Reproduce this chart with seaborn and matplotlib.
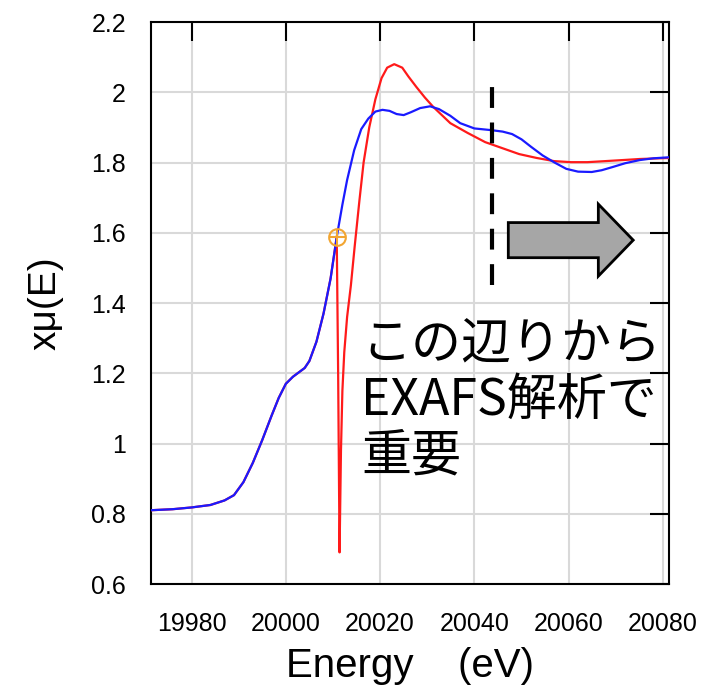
import numpy as np
import pandas as pd
import matplotlib
matplotlib.use("Agg")
import matplotlib.pyplot as plt
import seaborn as sns
from matplotlib.patches import FancyArrow

energy_meas = [19971.3, 19976, 19980, 19984, 19987, 19989, 19991, 19993, 19995, 19997,
               19998.5, 20000, 20001.5, 20003, 20004, 20005, 20006.5, 20008, 20009.5, 20010.8,
               20012, 20013, 20014.5, 20016, 20017.5, 20019, 20020.5, 20022, 20023.5, 20025,
               20026.5, 20028.5, 20030.6, 20032.5, 20034.9, 20037, 20040, 20043.7, 20046, 20048,
               20050, 20052, 20054.5, 20057, 20059.5, 20062, 20064.9, 20067, 20069.3, 20072,
               20075.1, 20078, 20081.5]
mu_meas = [0.810, 0.813, 0.818, 0.825, 0.838, 0.853, 0.890, 0.945, 1.010, 1.080,
           1.130, 1.170, 1.190, 1.205, 1.215, 1.235, 1.290, 1.370, 1.470, 1.588,
           1.680, 1.750, 1.835, 1.895, 1.925, 1.945, 1.950, 1.947, 1.938, 1.935,
           1.943, 1.955, 1.960, 1.952, 1.933, 1.912, 1.897, 1.892, 1.888, 1.881,
           1.866, 1.845, 1.820, 1.800, 1.782, 1.774, 1.773, 1.778, 1.787, 1.798,
           1.807, 1.812, 1.815]

# fitted / background curve (red)
energy_fit = [19971.3, 19976, 19980, 19984, 19987, 19989, 19991, 19993, 19995, 19997,
              19998.5, 20000, 20001.5, 20003, 20004, 20005, 20006.5, 20008, 20009.5, 20010.8,
              20011.1, 20011.4, 20011.7, 20012.0, 20012.4, 20013.0, 20013.8, 20014.6, 20015.6,
              20016.5, 20017.7, 20019.0, 20020.3, 20021.5, 20023.0, 20024.7, 20026.0, 20027.7,
              20029.5, 20031.3, 20034.9, 20038.6, 20042.3, 20045.9, 20049.5, 20053.2, 20056.9,
              20060.5, 20064, 20067.8, 20071.5, 20075.1, 20081.5]
mu_fit = [0.810, 0.813, 0.818, 0.825, 0.838, 0.853, 0.890, 0.945, 1.010, 1.080,
          1.130, 1.170, 1.190, 1.205, 1.215, 1.235, 1.290, 1.370, 1.470, 1.588,
          1.200, 0.690, 0.980, 1.150, 1.260, 1.360, 1.450, 1.560, 1.690,
          1.800, 1.900, 1.980, 2.040, 2.070, 2.080, 2.070, 2.045, 2.015,
          1.985, 1.958, 1.912, 1.884, 1.858, 1.841, 1.824, 1.813, 1.804,
          1.801, 1.801, 1.804, 1.807, 1.810, 1.813]

e0_point = (20010.8, 1.588)
exafs_start = 20043.8

y_ticks = [0.6, 0.8, 1.0, 1.2, 1.4, 1.6, 1.8, 2.0, 2.2]
y_tick_labels = ["0.6", "0.8", "1", "1.2", "1.4", "1.6", "1.8", "2", "2.2"]
x_ticks = [19980, 20000, 20020, 20040, 20060, 20080]

sns.set_style("white")
plt.rcParams['font.family'] = ['Liberation Sans', 'Noto Sans CJK JP', 'DejaVu Sans']
plt.rcParams['text.color'] = 'black'
plt.rcParams['axes.labelcolor'] = 'black'

fig = plt.figure(figsize=(7.1, 6.9), dpi=100)
ax = fig.add_axes([0.2127, 0.1536, 0.7296, 0.8145])

fit_df = pd.DataFrame({'E': energy_fit, 'mu': mu_fit})
meas_df = pd.DataFrame({'E': energy_meas, 'mu': mu_meas})
sns.lineplot(data=fit_df, x='E', y='mu', color='#ff1a1a', linewidth=1.6,
             sort=False, estimator=None, ax=ax, zorder=3)
sns.lineplot(data=meas_df, x='E', y='mu', color='#1a1aff', linewidth=1.6,
             sort=False, estimator=None, ax=ax, zorder=4)

# E0 marker
ax.plot(*e0_point, marker='o', ms=12, mfc='none', mec='#f2a531', mew=1.5, zorder=5)
ax.plot(*e0_point, marker='+', ms=12, mec='#f2a531', mew=1.5, zorder=5)

# dashed line marking start of EXAFS region
ax.plot([exafs_start, exafs_start], [1.45, 2.05], color='black', lw=3,
        linestyle=(0, (5, 3.5)), zorder=5)

# block arrow
ax.add_patch(FancyArrow(20047.2, 1.579, 26.5, 0, width=0.1, head_width=0.205,
                        head_length=7.4, length_includes_head=True,
                        facecolor='#a6a6a6', edgecolor='black', lw=2, zorder=6))

ax.text(20016.0, 1.352, "この辺りから\nEXAFS解析で\n重要", ha='left', va='top',
        fontsize=36, linespacing=1.08, color='black',
        family=['Noto Sans CJK JP', 'DejaVu Sans'], zorder=7)

ax.set_xlim(19971.4, 20081.3)
ax.set_ylim(0.6, 2.2)
ax.set_xticks(x_ticks)
ax.set_yticks(y_ticks)
ax.set_yticklabels(y_tick_labels)
ax.grid(True, color='#d9d9d9', linewidth=1.5)
ax.tick_params(direction='in', length=14, width=1.5, top=True, right=True,
               labelsize=18, colors='black')
ax.tick_params(axis='x', pad=20)
ax.tick_params(axis='y', pad=18)
for s in ax.spines.values():
    s.set_color('black')
    s.set_linewidth(1.5)

ax.set_xlabel("Energy    (eV)", fontsize=29, labelpad=8, color='black')
ax.set_ylabel("xμ(E)", fontsize=28, labelpad=20, color='black')

fig.savefig("out.png", dpi=100)
